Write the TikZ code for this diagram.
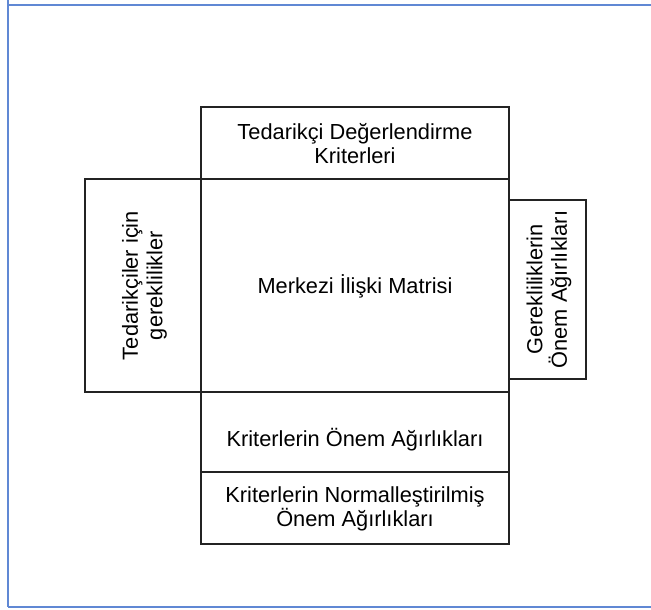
\documentclass[tikz,border=0pt]{standalone}
\usepackage{fontspec}
\setmainfont{Liberation Sans}
\definecolor{frameblue}{RGB}{96,136,212}
\definecolor{boxline}{RGB}{35,35,35}
\begin{document}
\begin{tikzpicture}[x=1pt,y=-1pt,
  panel/.style={draw=boxline, line width=1.1pt, rectangle, inner sep=0pt, outer sep=0pt},
  caption/.style={align=center, inner sep=0pt, font=\fontsize{21.8}{24.5}\selectfont},
  pageline/.style={draw=frameblue, line width=2pt}]
  \useasboundingbox (0,0) rectangle (651,610);

  % page frame lines
  \coordinate (ftl) at (8,5.5);
  \coordinate (ftr) at (651,5.5);
  \coordinate (fl0) at (8,0);
  \coordinate (fbl) at (8,607);
  \coordinate (fbr) at (651,607);
  \draw[pageline] (fl0) -- (fbl);
  \draw[pageline] (ftl) -- (ftr);
  \draw[pageline] (fbl) -- (fbr);

  % matrix panels
  \node[panel, minimum width=308, minimum height=72]  (top)    at (355,143)   {};
  \node[panel, minimum width=116, minimum height=213] (left)   at (143,285.5) {};
  \node[panel, minimum width=308, minimum height=213] (center) at (355,285.5) {};
  \node[panel, minimum width=77,  minimum height=179] (right)  at (547.5,289.5) {};
  \node[panel, minimum width=308, minimum height=80]  (crit)   at (355,432)   {};
  \node[panel, minimum width=308, minimum height=72]  (norm)   at (355,508)   {};

  % panel texts
  \node[caption] (toptext) at ([yshift=-0.5]top.center) {Tedarikçi Değerlendirme\\Kriterleri};
  \node[caption] (centertext) at ([yshift=-1]center.center) {Merkezi İlişki Matrisi};
  \node[caption, rotate=90] (lefttext) at ([xshift=1.5]left.center) {Tedarikçiler için\\gereklilikler};
  \node[caption, rotate=90] (righttext) at ([xshift=1.5]right.center) {Gerekliliklerin\\Önem Ağırlıkları};
  \node[caption] (crittext) at ([yshift=-8]crit.center) {Kriterlerin Önem Ağırlıkları};
  \node[caption] (normtext) at ([yshift=-1]norm.center) {Kriterlerin Normalleştirilmiş\\Önem Ağırlıkları};
\end{tikzpicture}
\end{document}
